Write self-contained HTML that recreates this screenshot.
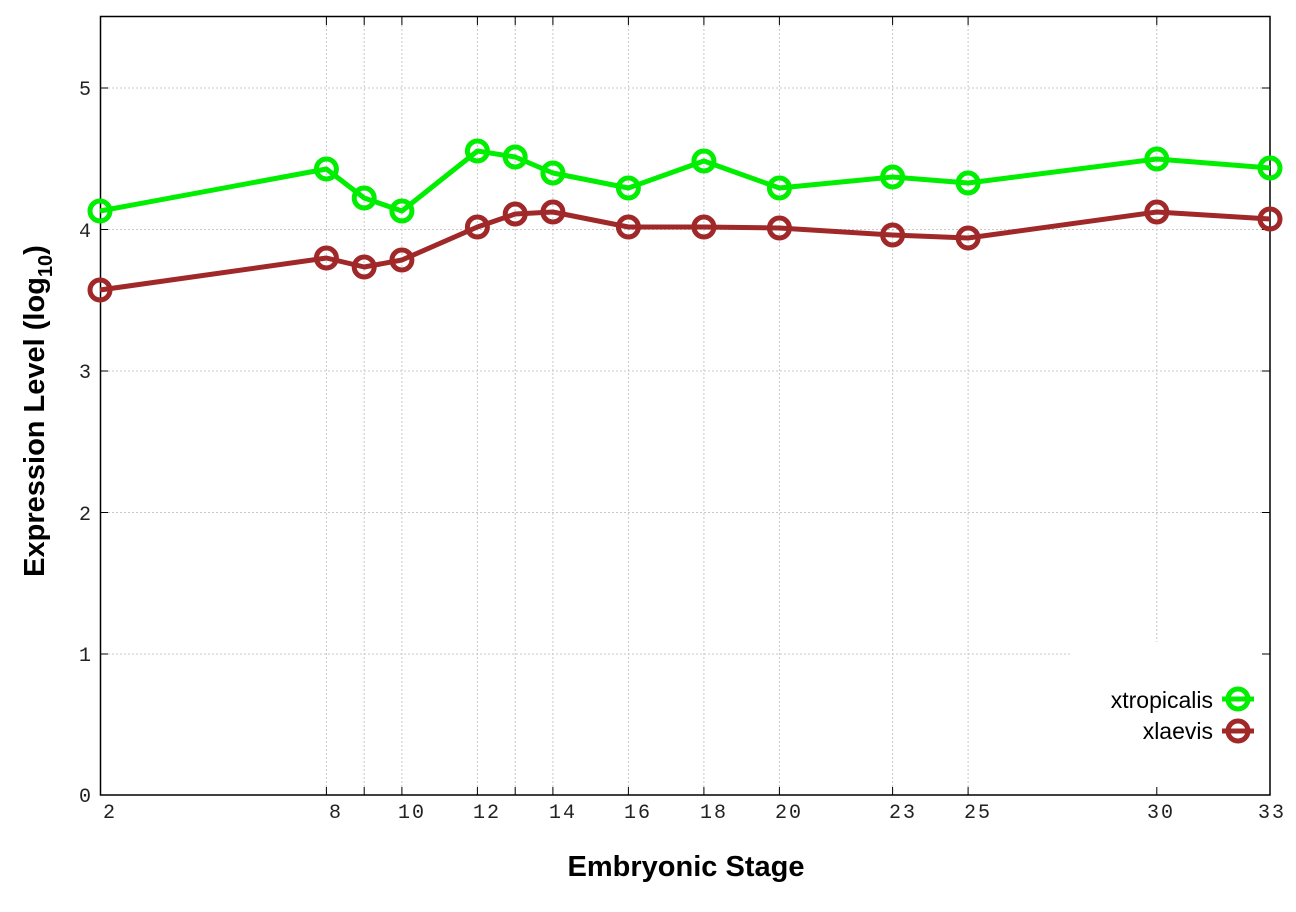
<!DOCTYPE html>
<html><head><style>body{margin:0;background:#fff}</style></head><body>
<svg width="1296" height="907" xmlns="http://www.w3.org/2000/svg">
<rect width="1296" height="907" fill="#fff"/>
<g stroke="#c8c8c8" stroke-width="1" stroke-dasharray="2,2">
<line x1="100" y1="88" x2="1270" y2="88"/>
<line x1="100" y1="229.5" x2="1270" y2="229.5"/>
<line x1="100" y1="371" x2="1270" y2="371"/>
<line x1="100" y1="512.5" x2="1270" y2="512.5"/>
<line x1="100" y1="654" x2="1072" y2="654"/>
<line x1="326.4" y1="17" x2="326.4" y2="795"/>
<line x1="364.2" y1="17" x2="364.2" y2="795"/>
<line x1="401.9" y1="17" x2="401.9" y2="795"/>
<line x1="477.4" y1="17" x2="477.4" y2="795"/>
<line x1="515.2" y1="17" x2="515.2" y2="795"/>
<line x1="552.9" y1="17" x2="552.9" y2="795"/>
<line x1="628.4" y1="17" x2="628.4" y2="795"/>
<line x1="703.9" y1="17" x2="703.9" y2="795"/>
<line x1="779.4" y1="17" x2="779.4" y2="795"/>
<line x1="892.6" y1="17" x2="892.6" y2="795"/>
<line x1="968.1" y1="17" x2="968.1" y2="795"/>
<line x1="1156.8" y1="17" x2="1156.8" y2="642"/>
</g>
<rect x="100.5" y="16.5" width="1169.5" height="778.5" fill="none" stroke="#000" stroke-width="1.5"/>
<g stroke="#000" stroke-width="1">
<line x1="100" y1="88" x2="108" y2="88"/><line x1="1262" y1="88" x2="1270" y2="88"/>
<line x1="100" y1="229.5" x2="108" y2="229.5"/><line x1="1262" y1="229.5" x2="1270" y2="229.5"/>
<line x1="100" y1="371" x2="108" y2="371"/><line x1="1262" y1="371" x2="1270" y2="371"/>
<line x1="100" y1="512.5" x2="108" y2="512.5"/><line x1="1262" y1="512.5" x2="1270" y2="512.5"/>
<line x1="100" y1="654" x2="108" y2="654"/><line x1="1262" y1="654" x2="1270" y2="654"/>
<path d="M326.4 17v8M364.2 17v8M401.9 17v8M477.4 17v8M515.2 17v8M552.9 17v8M628.4 17v8M703.9 17v8M779.4 17v8M892.6 17v8M968.1 17v8M1156.8 17v8M326.4 795v-8M364.2 795v-8M401.9 795v-8M477.4 795v-8M515.2 795v-8M552.9 795v-8M628.4 795v-8M703.9 795v-8M779.4 795v-8M892.6 795v-8M968.1 795v-8M1156.8 795v-8"/>
</g>
<g font-family="Liberation Mono, monospace" font-size="20" fill="#222" text-anchor="end">
<text x="91" y="95">5</text><text x="91" y="237">4</text><text x="91" y="378">3</text>
<text x="91" y="520">2</text><text x="91" y="661">1</text><text x="91" y="802">0</text>
</g>
<g font-family="Liberation Mono, monospace" font-size="20" fill="#222" text-anchor="middle" letter-spacing="2">
<text x="110" y="818">2</text><text x="336" y="818">8</text><text x="412" y="818">10</text>
<text x="487" y="818">12</text><text x="563" y="818">14</text><text x="638" y="818">16</text>
<text x="714" y="818">18</text><text x="789" y="818">20</text><text x="903" y="818">23</text>
<text x="978" y="818">25</text><text x="1161" y="818">30</text><text x="1272" y="818">33</text>
</g>
<text x="686" y="876" font-family="Liberation Sans, sans-serif" font-weight="bold" font-size="29" text-anchor="middle">Embryonic Stage</text>
<text transform="translate(44,411) rotate(-90)" font-family="Liberation Sans, sans-serif" font-weight="bold" font-size="29" text-anchor="middle">Expression Level (log<tspan font-size="20" dy="8">10</tspan><tspan dy="-8">)</tspan></text>
<g fill="none" stroke-width="5" stroke-linejoin="round">
<polyline stroke="#00ee00" points="100,211 326.4,169 364.2,198 401.9,211 477.4,151 515.2,157 552.9,173 628.4,188 703.9,161 779.4,188 892.6,177 968.1,183 1156.8,159 1270,168"/>
<polyline stroke="#a02828" points="100,290 326.4,258 364.2,267 401.9,260 477.4,227 515.2,214 552.9,212 628.4,227 703.9,227 779.4,228 892.6,235 968.1,238 1156.8,212 1270,219"/>
</g>
<g fill="none" stroke-width="5">
<g stroke="#00ee00">
<circle cx="100" cy="211" r="10"/><circle cx="326.4" cy="169" r="10"/><circle cx="364.2" cy="198" r="10"/><circle cx="401.9" cy="211" r="10"/><circle cx="477.4" cy="151" r="10"/><circle cx="515.2" cy="157" r="10"/><circle cx="552.9" cy="173" r="10"/><circle cx="628.4" cy="188" r="10"/><circle cx="703.9" cy="161" r="10"/><circle cx="779.4" cy="188" r="10"/><circle cx="892.6" cy="177" r="10"/><circle cx="968.1" cy="183" r="10"/><circle cx="1156.8" cy="159" r="10"/><circle cx="1270" cy="168" r="10"/>
</g>
<g stroke="#a02828">
<circle cx="100" cy="290" r="10"/><circle cx="326.4" cy="258" r="10"/><circle cx="364.2" cy="267" r="10"/><circle cx="401.9" cy="260" r="10"/><circle cx="477.4" cy="227" r="10"/><circle cx="515.2" cy="214" r="10"/><circle cx="552.9" cy="212" r="10"/><circle cx="628.4" cy="227" r="10"/><circle cx="703.9" cy="227" r="10"/><circle cx="779.4" cy="228" r="10"/><circle cx="892.6" cy="235" r="10"/><circle cx="968.1" cy="238" r="10"/><circle cx="1156.8" cy="212" r="10"/><circle cx="1270" cy="219" r="10"/>
</g>
</g>
<g font-family="Liberation Sans, sans-serif" font-size="23" text-anchor="end" fill="#000">
<text x="1213" y="708">xtropicalis</text><text x="1213" y="739">xlaevis</text>
</g>
<line x1="1222" y1="699" x2="1254" y2="699" stroke="#00ee00" stroke-width="5"/>
<circle cx="1238" cy="699" r="10" fill="none" stroke="#00ee00" stroke-width="5"/>
<line x1="1222" y1="731" x2="1254" y2="731" stroke="#a02828" stroke-width="5"/>
<circle cx="1238" cy="731" r="10" fill="none" stroke="#a02828" stroke-width="5"/>
</svg>
</body></html>
